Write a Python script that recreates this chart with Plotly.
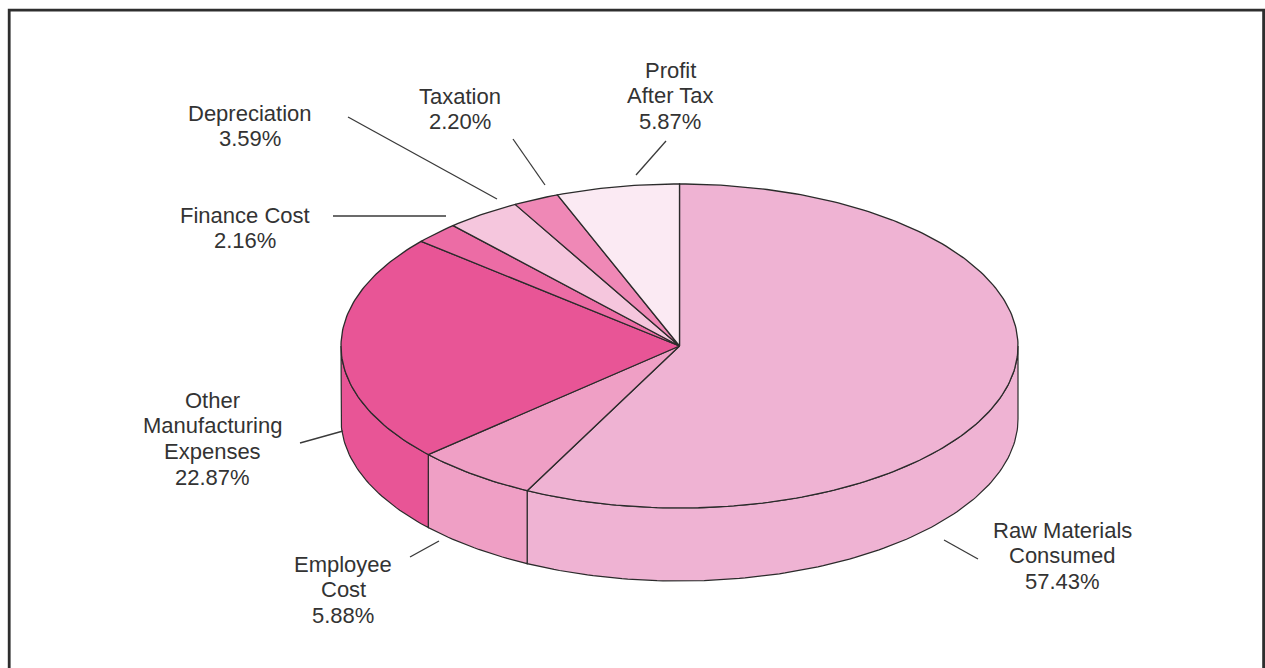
import numpy as np
import plotly.graph_objects as go

# ---- data -------------------------------------------------------------
categories = [
    "Raw Materials<br>Consumed",
    "Employee<br>Cost",
    "Other<br>Manufacturing<br>Expenses",
    "Finance Cost",
    "Depreciation",
    "Taxation",
    "Profit<br>After Tax",
]
shares = [57.43, 5.88, 22.87, 2.16, 3.59, 2.20, 5.87]

# ---- styling ----------------------------------------------------------
slice_colors = ["#EFB3D3", "#EF9FC5", "#E85596", "#EC6CA5", "#F5C6DD", "#EF88B6", "#FBEAF3"]
edge_color = "#2B2B2B"
text_color = "#333333"
font_family = "Liberation Sans, Arial, sans-serif"
font_size = 22
line_gap = 25.8

W, H = 1265, 668
CX, CY = 679.5, 346.0        # centre of the top face
RX, RY = 338.5, 162.0        # radii of the top face ellipse
DEPTH = 73.0                 # thickness of the disc

# text anchor (centre of first line) and leader segment for each slice
label_anchor = [
    (1062, 530), (343, 564), (212, 400), (245, 215),
    (250, 113), (460, 96), (670, 70),
]
leader_segments = [
    ((944, 540), (978, 559)),
    ((410, 557), (439, 541)),
    ((300, 443), (343, 431)),
    ((333, 216), (446, 216)),
    ((348, 117), (497, 199)),
    ((513, 139), (545, 185)),
    ((636, 175), (666, 141)),
]


def rim(t0, t1, drop=0.0, n=120):
    """Points along the ellipse rim, angles in degrees clockwise from 12 o'clock."""
    t = np.radians(np.linspace(t0, t1, max(int(abs(t1 - t0)) + 2, 4)))
    return CX + RX * np.sin(t), CY - RY * np.cos(t) + drop


total = sum(shares)
edges = np.concatenate([[0.0], np.cumsum(shares) / total * 360.0])

fig = go.Figure()

# front wall of the disc (only the part facing the viewer: 90°..270°)
for i, col in enumerate(slice_colors):
    lo, hi = max(edges[i], 90.0), min(edges[i + 1], 270.0)
    if lo >= hi:
        continue
    tx, ty = rim(lo, hi)
    bx, by = rim(hi, lo, drop=DEPTH)
    fig.add_trace(go.Scatter(
        x=np.concatenate([tx, bx, tx[:1]]),
        y=np.concatenate([ty, by, ty[:1]]),
        mode="lines", fill="toself", fillcolor=col,
        line=dict(color=edge_color, width=1.2),
        hoverinfo="skip", showlegend=False,
    ))

# top face wedges
for i, col in enumerate(slice_colors):
    ax_, ay_ = rim(edges[i], edges[i + 1])
    fig.add_trace(go.Scatter(
        x=np.concatenate([[CX], ax_, [CX]]),
        y=np.concatenate([[CY], ay_, [CY]]),
        mode="lines", fill="toself", fillcolor=col,
        line=dict(color=edge_color, width=1.3),
        hoverinfo="skip", showlegend=False,
    ))

# labels: category name lines followed by the share
annotations = []
for name, val, (lx, ly) in zip(categories, shares, label_anchor):
    lines = name.split("<br>") + [f"{val:.2f}%"]
    for k, txt in enumerate(lines):
        annotations.append(dict(
            x=lx, y=ly + k * line_gap, xref="x", yref="y",
            text=txt, showarrow=False, xanchor="center", yanchor="middle",
            font=dict(family=font_family, size=font_size, color=text_color),
        ))

shapes = []
for (p0, p1) in leader_segments:
    shapes.append(dict(type="line", xref="x", yref="y",
                       x0=p0[0], y0=p0[1], x1=p1[0], y1=p1[1],
                       line=dict(color="#3A3A3A", width=1.3)))

# outer frame (its lower edge runs past the bottom of the page)
shapes.append(dict(type="rect", xref="x", yref="y", x0=9.2, y0=10.2, x1=1263.6, y1=H + 30,
                   line=dict(color="#2E2E2E", width=2.8), fillcolor="rgba(0,0,0,0)",
                   layer="below"))

fig.update_layout(
    width=W, height=H,
    margin=dict(l=0, r=0, t=0, b=0),
    paper_bgcolor="white", plot_bgcolor="white",
    xaxis=dict(range=[0, W], visible=False, fixedrange=True),
    yaxis=dict(range=[H, 0], visible=False, fixedrange=True),
    annotations=annotations, shapes=shapes, showlegend=False,
)

fig.write_html("out.html", config={"displayModeBar": False, "responsive": False})
